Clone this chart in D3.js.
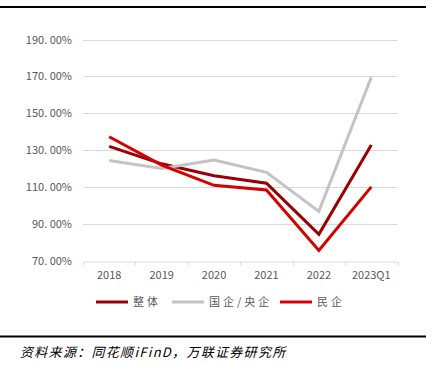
<!DOCTYPE html>
<html>
<head>
<meta charset="utf-8">
<script src="https://cdn.jsdelivr.net/npm/d3@7"></script>
<style>
  body { margin: 0; background: #fff; }
  svg { display: block; font-family: "Noto Sans CJK SC", "Noto Sans", sans-serif; }
</style>
</head>
<body>
<div id="chart"></div>
<script>
// data
const years = ["2018", "2019", "2020", "2021", "2022", "2023Q1"];
const zhengti = [132, 122.5, 116, 112, 84.2, 132.7];
const guoqi = [124.3, 120, 124.6, 117.9, 96.7, 169.5];
const minqi = [137.2, 121.8, 110.8, 108.3, 75.5, 110];
const yTicks = [70, 90, 110, 130, 150, 170, 190];

const series = [
  { name: "整体", values: zhengti, color: "#990000" },
  { name: "国企/央企", values: guoqi, color: "#c3c3c3" },
  { name: "民企", values: minqi, color: "#d50000" }
];

const W = 439, H = 371;
const svg = d3.select("#chart").append("svg")
  .attr("width", W).attr("height", H);

// frame lines top and bottom
svg.append("rect").attr("x", 0).attr("y", 6).attr("width", 426).attr("height", 2).attr("fill", "#000");
svg.append("rect").attr("x", 0).attr("y", 335.5).attr("width", 426).attr("height", 2).attr("fill", "#000");

let x = d3.scaleBand().domain(years).range([83, 397.5]);
let y = d3.scaleLinear().domain([70, 190]).range([260.5, 39.5]);

// gridlines
svg.append("g").selectAll("line")
  .data(yTicks.slice(1)).enter().append("line")
  .attr("x1", 83).attr("x2", 397.5)
  .attr("y1", d => Math.round(y(d)) + 0.5).attr("y2", d => Math.round(y(d)) + 0.5)
  .attr("stroke", "#d9d9d9").attr("stroke-width", 1);

// y labels
svg.append("g").selectAll("text")
  .data(yTicks).enter().append("text")
  .attr("x", 72).attr("y", d => y(d) + 4)
  .attr("text-anchor", "end")
  .attr("font-size", 11).attr("fill", "#595959")
  .text(d => d.toFixed(2).replace(".", ". ") + "%");

// x axis
let xAxis = svg.append("g")
  .attr("transform", "translate(0," + (Math.round(y(70)) + 0.5) + ")")
  .call(d3.axisBottom(x).tickSize(0).tickPadding(10));
xAxis.select(".domain").attr("stroke", "#d9d9d9");
xAxis.selectAll("text").attr("font-size", 11).attr("fill", "#595959")
  .attr("font-family", "Noto Sans CJK SC, sans-serif");
// tick marks at band boundaries
let bounds = years.map(d => x(d)).concat([x(years[5]) + x.bandwidth()]);
xAxis.selectAll(".bound").data(bounds).enter().append("line")
  .attr("class", "bound")
  .attr("x1", d => Math.round(d) + 0.5).attr("x2", d => Math.round(d) + 0.5)
  .attr("y1", 0).attr("y2", 4)
  .attr("stroke", "#d9d9d9");

// lines
let line = d3.line()
  .x((d, i) => x(years[i]) + x.bandwidth() / 2)
  .y(d => y(d));

svg.append("g").selectAll("path")
  .data(series).enter().append("path")
  .attr("d", d => line(d.values))
  .attr("fill", "none")
  .attr("stroke", d => d.color)
  .attr("stroke-width", 3)
  .attr("stroke-linejoin", "miter");

// legend
const legendX = [96, 172, 280];
let lg = svg.append("g").selectAll("g")
  .data(series).enter().append("g")
  .attr("transform", (d, i) => "translate(" + legendX[i] + ",302)");
lg.append("line").attr("x1", 0).attr("x2", 32).attr("y1", 0).attr("y2", 0)
  .attr("stroke", d => d.color).attr("stroke-width", 3);
lg.append("text").attr("x", 37).attr("y", 4)
  .attr("font-size", 11).attr("fill", "#595959")
  .attr("letter-spacing", 3)
  .text(d => d.name);

// source
svg.append("text")
  .attr("x", 20).attr("y", 357)
  .attr("font-size", 13).attr("font-style", "italic").attr("fill", "#000")
  .attr("letter-spacing", 1.3)
  .text("资料来源：同花顺iFinD，万联证券研究所");
</script>
</body>
</html>
